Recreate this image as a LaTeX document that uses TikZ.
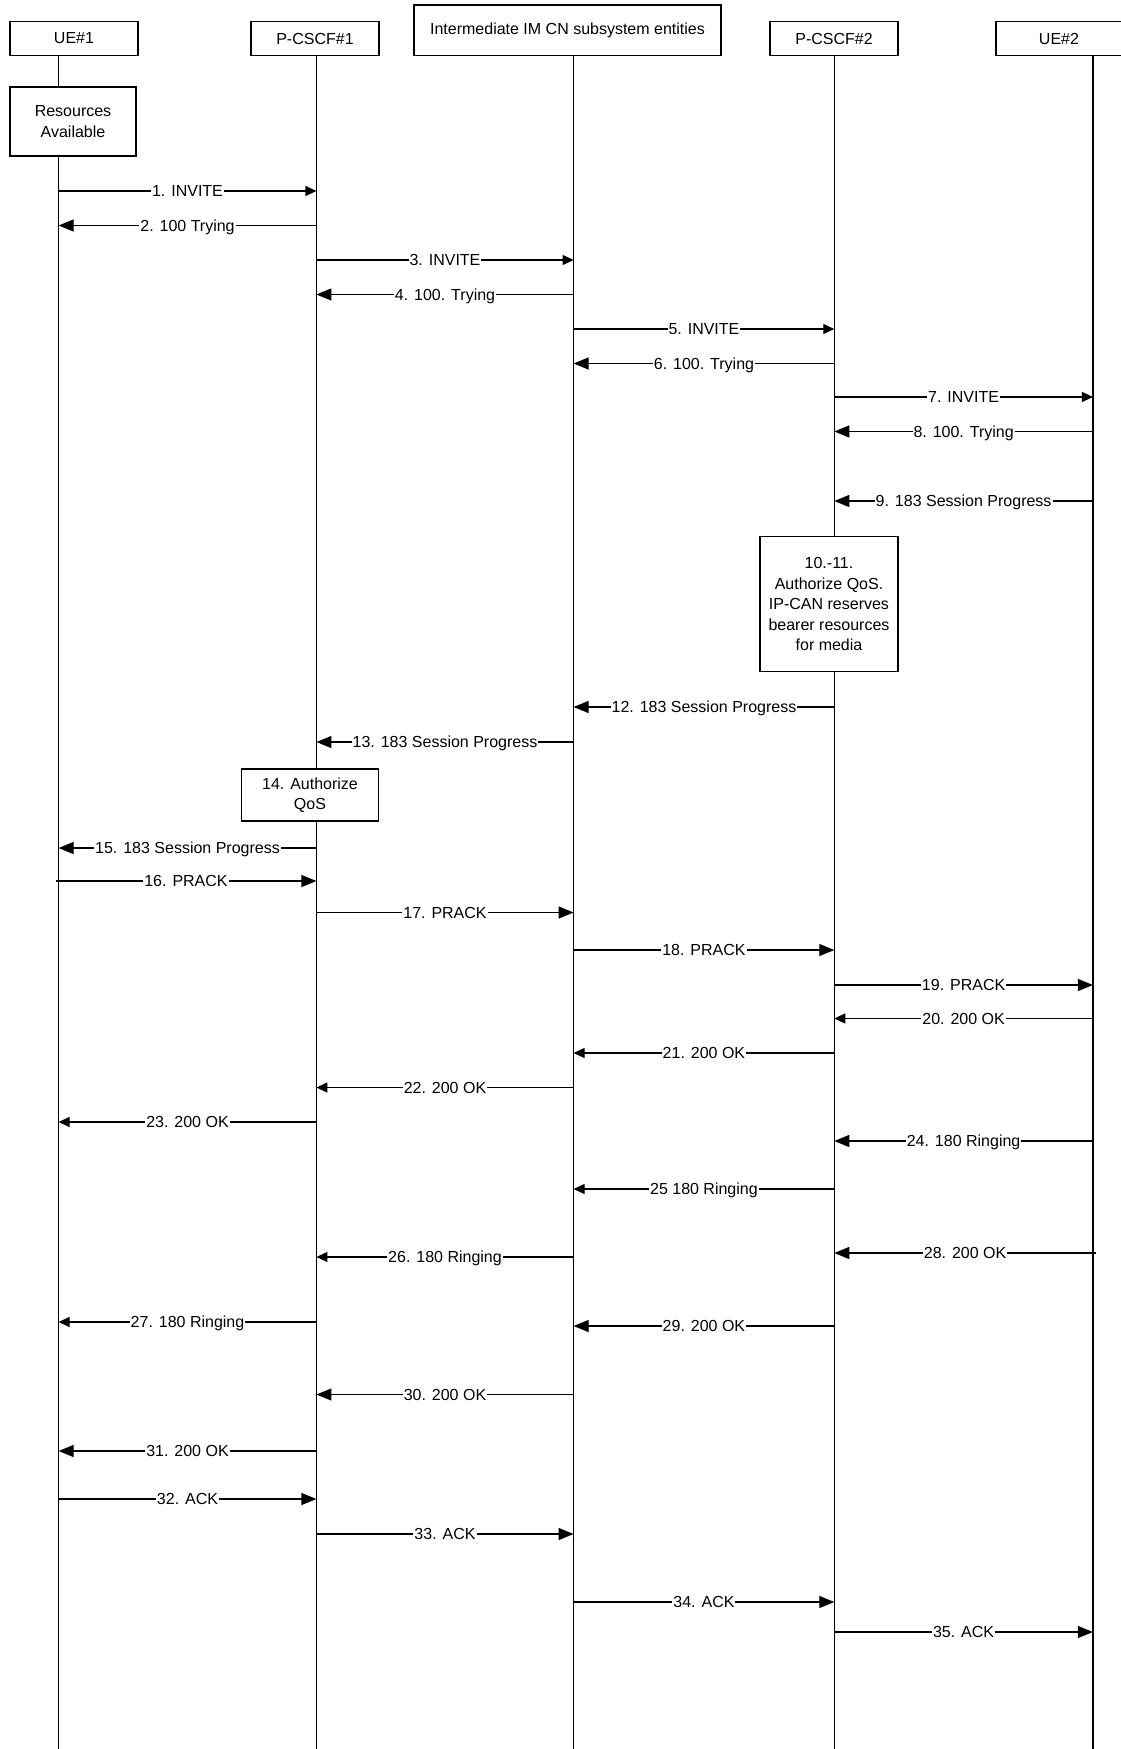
\documentclass[tikz,border=0pt]{standalone}
\usepackage{fontspec}
\setmainfont{Liberation Sans}
\usetikzlibrary{arrows.meta}
\usetikzlibrary{calc}

\begin{document}
\begin{tikzpicture}[x=1pt, y=-1pt, line width=1.2pt, font=\fontsize{16}{20.5}\selectfont]

		\tikzstyle{hdr}      = [draw, fill=white, minimum width=128pt, minimum height=34pt, inner sep=0pt]
		\tikzstyle{actbox}   = [draw, fill=white, align=center, inner sep=0pt]
		\tikzstyle{lbl}      = [fill=white, inner xsep=1pt, inner ysep=0pt, text height=11.5pt, text depth=0pt]
		\tikzstyle{bigmsg}   = [-{Triangle[length=15pt, width=12pt]}]
		\tikzstyle{smallmsg} = [-{Triangle[length=11pt, width=10pt]}]

		\useasboundingbox (0,0) rectangle (1120,1749);

		% entities
		\node [hdr](ue1h) at (74,38.5) {UE\#1};
		\node [hdr](pc1h) at (315,38.5) {P-CSCF\#1};
		\node [hdr, minimum width=307pt, minimum height=50.5pt](imh) at (567.5,30.25) {Intermediate IM CN subsystem entities};
		\node [hdr](pc2h) at (834,38.5) {P-CSCF\#2};
		\node [hdr, minimum width=126pt](ue2h) at (1059,38.5) {UE\#2};

		% lifelines
		\foreach \n/\x in {ue1/58.6, pc1/316.4, im/573.6, pc2/834.3, ue2/1092.9} {
			\coordinate (\n) at (\x,0);
			\coordinate (\n-top) at (\x,55.5);
			\coordinate (\n-end) at (\x,1749);
			\draw (\n-top) -- (\n-end);
		}

		% local actions
		\node [actbox, minimum width=126pt, minimum height=69pt](res) at (73,121.5) {Resources\\Available};
		\node [actbox, minimum width=138pt, minimum height=135pt](qos2) at (829,604) {10.-11.\\Authorize QoS.\\IP-CAN reserves\\bearer resources\\for media};
		\node [actbox, minimum width=137pt, minimum height=52pt](qos1) at (310,795) {14. Authorize\\QoS};

		% messages
		\foreach \src/\dst/\yy/\txt in {ue1/pc1/191/1. INVITE, pc1/im/260/3. INVITE, im/pc2/329/5. INVITE,
			pc2/ue2/397/7. INVITE, ue2/pc2/1018.5/20. 200 OK, pc2/im/1053/21. 200 OK, im/pc1/1087.5/22. 200 OK,
			pc1/ue1/1122/23. 200 OK, pc2/im/1189/25 180 Ringing, im/pc1/1257/26. 180 Ringing, pc1/ue1/1322/27. 180 Ringing}
			\draw [smallmsg] ($(\src)+(0,\yy)$) -- ($(\dst)+(0,\yy)$) node [lbl, midway] {\txt};

		\foreach \src/\dst/\yy/\txt in {pc1/ue1/225.5/2. 100 Trying, im/pc1/294.5/4. 100. Trying, pc2/im/363.5/6. 100. Trying,
			ue2/pc2/431.5/8. 100. Trying, ue2/pc2/501/9. 183 Session Progress, pc2/im/707/12. 183 Session Progress,
			im/pc1/742/13. 183 Session Progress, pc1/ue1/848/15. 183 Session Progress, pc1/im/912.5/17. PRACK,
			im/pc2/950/18. PRACK, pc2/ue2/985/19. PRACK, ue2/pc2/1141/24. 180 Ringing, pc2/im/1326/29. 200 OK,
			im/pc1/1394.5/30. 200 OK, pc1/ue1/1451/31. 200 OK, ue1/pc1/1499/32. ACK, pc1/im/1534/33. ACK,
			im/pc2/1602/34. ACK, pc2/ue2/1632/35. ACK}
			\draw [bigmsg] ($(\src)+(0,\yy)$) -- ($(\dst)+(0,\yy)$) node [lbl, midway] {\txt};

		\draw [bigmsg] ($(ue1)+(-3,881)$) -- ($(pc1)+(0,881)$) node [lbl, midway] {16. PRACK};
		\draw [bigmsg] ($(ue2)+(3,1253)$) -- ($(pc2)+(0,1253)$) node [lbl, midway] {28. 200 OK};

	\end{tikzpicture}
\end{document}
